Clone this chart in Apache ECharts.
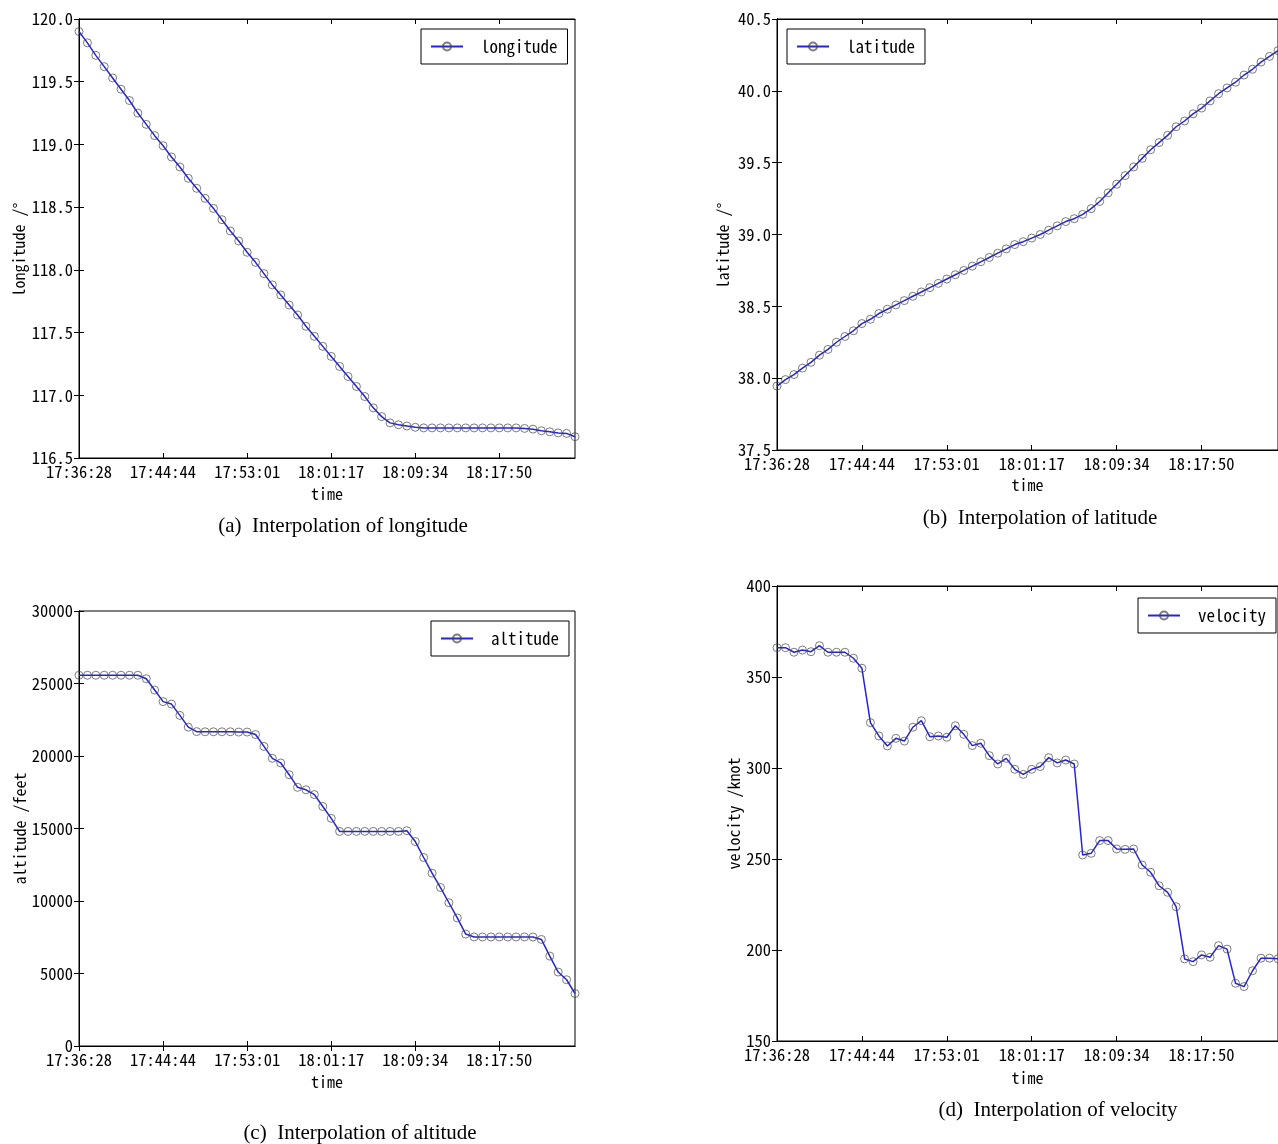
<!DOCTYPE html>
<html>
<head>
<meta charset="utf-8">
<script src="https://cdn.jsdelivr.net/npm/echarts@6/dist/echarts.min.js"></script>
<style>
html,body{margin:0;padding:0;background:#fff;overflow:hidden;}
#chart{width:1278px;height:1144px;}
</style>
</head>
<body>
<div id="chart"></div>
<script>
// ---- data ----
const timeLabels = ['17:36:28','17:44:44','17:53:01','18:01:17','18:09:34','18:17:50'];
const timeTickIndex = [0, 10, 20, 30, 40, 50];

const longitude = [119.90,119.81,119.71,119.62,119.53,119.44,119.35,119.25,119.16,119.07,
  118.99,118.90,118.82,118.73,118.65,118.57,118.49,118.40,118.31,118.23,
  118.14,118.06,117.97,117.88,117.80,117.72,117.64,117.55,117.47,117.39,
  117.31,117.23,117.15,117.07,116.99,116.90,116.83,116.78,116.765,116.755,
  116.745,116.74,116.74,116.74,116.74,116.74,116.74,116.74,116.74,116.74,
  116.74,116.74,116.74,116.736,116.73,116.717,116.709,116.70,116.696,116.67];

const latitude = [37.945,37.99,38.025,38.07,38.11,38.16,38.20,38.25,38.29,38.33,
  38.38,38.41,38.45,38.48,38.51,38.54,38.57,38.60,38.63,38.66,
  38.69,38.72,38.75,38.78,38.81,38.84,38.87,38.90,38.93,38.95,
  38.975,39.00,39.03,39.06,39.09,39.11,39.14,39.18,39.23,39.29,
  39.35,39.41,39.47,39.53,39.59,39.64,39.69,39.75,39.79,39.84,
  39.88,39.93,39.98,40.02,40.06,40.11,40.15,40.20,40.24,40.28];

const altitude = [25570,25570,25570,25570,25570,25570,25570,25570,25330,24550,
  23750,23580,22800,21990,21680,21670,21670,21670,21670,21650,
  21650,21480,20660,19840,19520,18710,17840,17670,17340,16520,
  15700,14800,14800,14800,14800,14800,14800,14800,14800,14850,
  14100,13000,11920,10930,9880,8830,7720,7520,7520,7520,
  7520,7520,7520,7520,7520,7350,6200,5100,4570,3620];

const velocity = [366.1,366.1,363.6,364.8,363.9,367.2,363.6,363.6,363.6,360.3,
  354.8,324.9,317.6,312.1,316.3,314.8,322.4,326.0,317.2,317.6,
  316.9,323.2,318.5,312.3,313.6,306.8,302.2,305.3,299.3,296.5,
  299.3,300.8,305.7,302.8,304.4,302.2,252.2,253.1,260.1,260.1,
  255.5,255.3,255.5,246.7,242.7,235.3,231.7,223.8,195.1,193.6,
  197.3,196.0,202.4,200.5,181.7,179.9,188.6,195.5,195.5,195.2];

const seriesNames = ['longitude','latitude','altitude','velocity'];
const yNames = ['longitude /°','latitude /°','altitude /feet','velocity /knot'];
const captions = ['(a)  Interpolation of longitude','(b)  Interpolation of latitude',
                  '(c)  Interpolation of altitude','(d)  Interpolation of velocity'];
const yMin = [116.5, 37.5, 0, 150];
const yMax = [120.0, 40.5, 30000, 400];
const yStep = [0.5, 0.5, 5000, 50];
const yDecimals = [1, 1, 0, 0];
const allValues = [longitude, latitude, altitude, velocity];

// ---- layout / style ----
const MONO = '"Noto Sans Mono CJK SC","Noto Sans Mono CJK JP","DejaVu Sans Mono",monospace';
const SERIF = '"Liberation Serif","Times New Roman",serif';
const BLUE = '#2424d8';
const grids = [
  {left:79,  top:19,  width:496, height:439},
  {left:777, top:19,  width:507, height:431},
  {left:79,  top:611, width:496, height:435},
  {left:777, top:586, width:507, height:455}
];
const yNameGap = [52, 46, 50, 34];
const yNamePad = [[0,22,0,0],[0,22,0,0],[0,0,0,0],[0,0,0,0]];
const xNameGap = [28, 27, 28, 29];
const legendPos = [
  {left:421, top:29},
  {left:787, top:29},
  {left:431, top:621},
  {left:1138, top:598}
];
const captionPos = [[343,526],[1040,518],[360,1133],[1058,1110]];

const xAxes = [], yAxes = [], series = [], legends = [], graphics = [];
const lineBlack = {show:true, lineStyle:{color:'#000', width:1}};
const tickIn = {show:true, inside:true, length:5, lineStyle:{color:'#000', width:1}};
const xTickIn = Object.assign({}, tickIn, {customValues:timeTickIndex});

grids.forEach((g, i) => {
  xAxes.push({
    gridIndex:i, type:'value', position:'bottom', min:0, max:59, interval:10,
    axisLine:lineBlack, axisTick:xTickIn, splitLine:{show:false},
    axisLabel:{show:true, margin:5, color:'#000', fontFamily:MONO, fontSize:16.5,
      customValues:timeTickIndex,
      formatter:v => { const k = timeTickIndex.indexOf(v); return k >= 0 ? timeLabels[k] : ''; }},
    name:'time', nameLocation:'middle', nameGap:xNameGap[i],
    nameTextStyle:{color:'#000', fontFamily:MONO, fontSize:16}
  });
  xAxes.push({
    gridIndex:i, type:'value', position:'top', min:0, max:59, interval:10,
    axisLine:lineBlack, axisTick:xTickIn, axisLabel:{show:false}, splitLine:{show:false}
  });
  yAxes.push({
    gridIndex:i, type:'value', position:'left', min:yMin[i], max:yMax[i], interval:yStep[i],
    axisLine:lineBlack, axisTick:tickIn, splitLine:{show:false},
    axisLabel:{show:true, margin:6, color:'#000', fontFamily:MONO, fontSize:16.5,
      formatter:v => v.toFixed(yDecimals[i])},
    name:yNames[i], nameLocation:'middle', nameGap:yNameGap[i], nameRotate:90,
    nameTextStyle:{color:'#000', fontFamily:MONO, fontSize:16, padding:yNamePad[i]}
  });
  yAxes.push({
    gridIndex:i, type:'value', position:'right', min:yMin[i], max:yMax[i], interval:yStep[i],
    axisLine:lineBlack, axisTick:tickIn, axisLabel:{show:false}, splitLine:{show:false}
  });
  series.push({
    name:seriesNames[i], type:'line', xAxisIndex:2*i, yAxisIndex:2*i,
    data:allValues[i].map((v,k) => [k, v]),
    symbol:'circle', symbolSize:8, showSymbol:true, showAllSymbol:true,
    lineStyle:{color:BLUE, width:1.5},
    itemStyle:{color:'rgba(0,0,0,0)', borderColor:'rgba(70,70,70,0.7)', borderWidth:1},
    emphasis:{disabled:true}, animation:false
  });
  legends.push({
    data:[seriesNames[i]], left:legendPos[i].left, top:legendPos[i].top,
    orient:'horizontal', selectedMode:false,
    borderColor:'#000', borderWidth:1, borderRadius:0, padding:[9,10,9,9],
    backgroundColor:'#fff',
    itemWidth:32, itemHeight:10,
    textStyle:{color:'#000', fontFamily:MONO, fontSize:17, padding:[0,0,0,13]}
  });
  graphics.push({
    type:'text', x:captionPos[i][0], y:captionPos[i][1],
    style:{text:captions[i], fill:'#000', font:'21px ' + SERIF, textAlign:'center', textVerticalAlign:'middle'}
  });
});

const chart = echarts.init(document.getElementById('chart'), null, {renderer:'canvas', width:1278, height:1144});
chart.setOption({
  backgroundColor:'#fff',
  animation:false,
  grid:grids.map(g => Object.assign({show:true, borderColor:'#000', borderWidth:1, backgroundColor:'#fff'}, g)),
  xAxis:xAxes,
  yAxis:yAxes,
  legend:legends,
  series:series,
  graphic:graphics
});
</script>
</body>
</html>
